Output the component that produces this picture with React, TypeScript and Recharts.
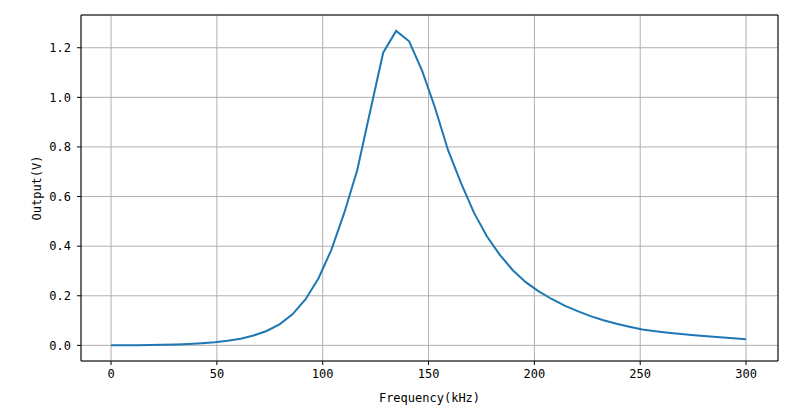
import { LineChart, Line, XAxis, YAxis, CartesianGrid, ReferenceLine } from "recharts"

// frequency samples (kHz)
const freqs = [
  0, 6.12, 12.24, 18.37, 24.49, 30.61, 36.73, 42.86, 48.98, 55.1,
  61.22, 67.35, 73.47, 79.59, 85.71, 91.84, 97.96, 104.08, 110.2, 116.33,
  122.45, 128.57, 134.69, 140.82, 146.94, 153.06, 159.18, 165.31, 171.43, 177.55,
  183.67, 189.8, 195.92, 202.04, 208.16, 214.29, 220.41, 226.53, 232.65, 238.78,
  244.9, 251.02, 257.14, 263.27, 269.39, 275.51, 281.63, 287.76, 293.88, 300,
]

// output amplitude (V)
const outputs = [
  0.0, 0.001, 0.001, 0.002, 0.003, 0.004, 0.006, 0.009, 0.013, 0.019,
  0.027, 0.04, 0.058, 0.085, 0.125, 0.185, 0.27, 0.385, 0.535, 0.707,
  0.945, 1.18, 1.268, 1.226, 1.108, 0.958, 0.788, 0.655, 0.535, 0.44,
  0.365, 0.303, 0.255, 0.218, 0.187, 0.16, 0.138, 0.118, 0.101, 0.087,
  0.075, 0.064, 0.057, 0.051, 0.046, 0.041, 0.037, 0.033, 0.029, 0.025,
]

const xTicks = [0, 50, 100, 150, 200, 250, 300]
const yTicks = [0, 0.2, 0.4, 0.6, 0.8, 1.0, 1.2]

const data = freqs.map((f, i) => ({ freq: f, out: outputs[i] }))

const FONT = "'DejaVu Sans Mono', monospace"
const tickStyle = { fill: "#000", fontSize: 12, fontFamily: FONT }

export default function App() {
  return (
    <div style={{ position: "absolute", left: 0, top: 0, background: "#fff" }}>
      <LineChart width={800} height={409} data={data} margin={{ top: 15, right: 22, left: 0, bottom: 0 }}>
        <CartesianGrid stroke="#b0b0b0" strokeWidth={1} />
        <XAxis
          dataKey="freq"
          type="number"
          domain={[-14.2, 315.1]}
          ticks={xTicks}
          allowDataOverflow
          height={48}
          tickSize={4}
          tickMargin={4}
          stroke="#000"
          tick={tickStyle}
          label={{ value: "Frequency(kHz)", position: "insideBottom", offset: 7, style: { fill: "#000", fontSize: 12, fontFamily: FONT } }}
        />
        <YAxis
          type="number"
          domain={[-0.063, 1.332]}
          ticks={yTicks}
          allowDataOverflow
          width={81}
          tickSize={4}
          tickMargin={6}
          stroke="#000"
          tick={tickStyle}
          tickFormatter={(v) => v.toFixed(1)}
          label={{ value: "Output(V)", angle: -90, position: "insideLeft", offset: 37, style: { fill: "#000", fontSize: 12, fontFamily: FONT, textAnchor: "middle" } }}
        />
        <ReferenceLine y={1.332} stroke="#000" strokeWidth={1} />
        <ReferenceLine x={315.1} stroke="#000" strokeWidth={1} />
        <Line type="linear" dataKey="out" stroke="#1f77b4" strokeWidth={2} dot={false} isAnimationActive={false} />
      </LineChart>
    </div>
  )
}
